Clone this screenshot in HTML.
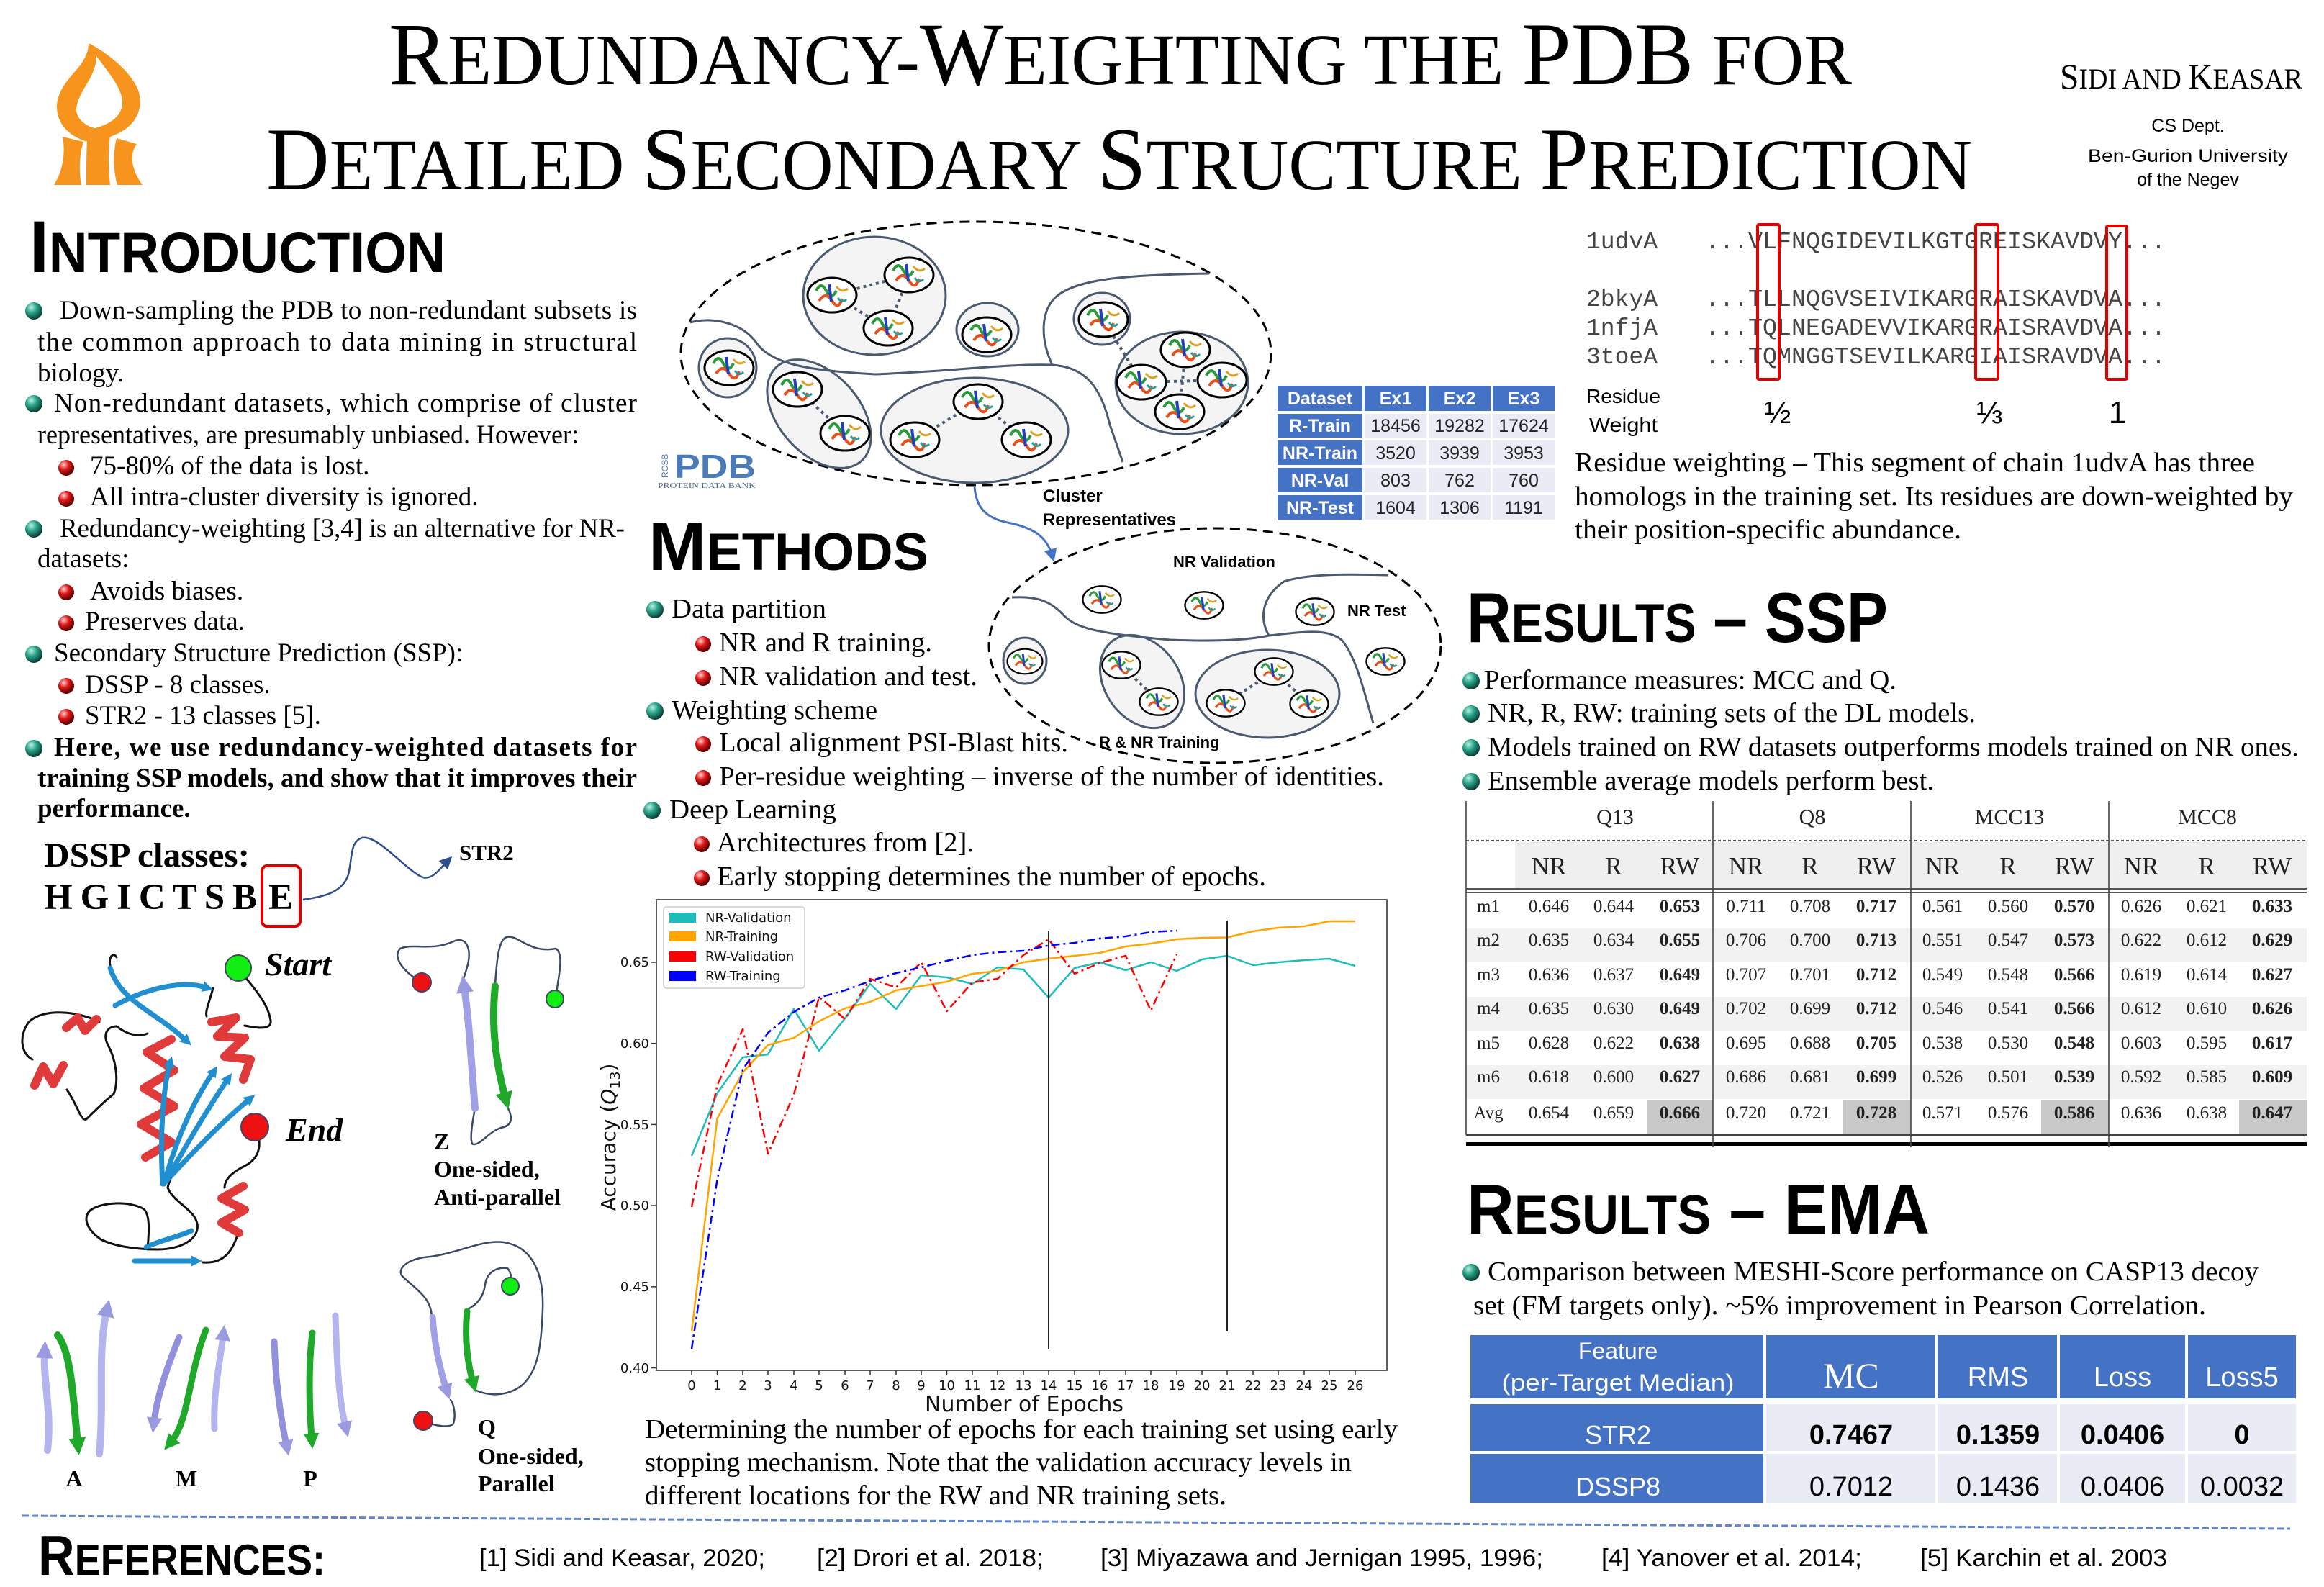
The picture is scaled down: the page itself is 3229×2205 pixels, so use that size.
<!DOCTYPE html>
<html><head><meta charset="utf-8">
<style>
html,body{margin:0;padding:0;background:#fff;}
body{width:3229px;height:2205px;overflow:hidden;}
svg{display:block;}
.serif{font-family:"Liberation Serif",serif;}
.sans{font-family:"Liberation Sans",sans-serif;}
.mono{font-family:"Liberation Mono",monospace;}
.dj{font-family:"DejaVu Sans","Liberation Sans",sans-serif;}
</style></head>
<body>
<svg width="3229" height="2205" viewBox="0 0 3229 2205" xmlns="http://www.w3.org/2000/svg">
<defs>
  <radialGradient id="gt" cx="35%" cy="30%" r="70%">
    <stop offset="0" stop-color="#b8f0e0"/><stop offset="0.45" stop-color="#2aa58a"/><stop offset="1" stop-color="#0b3f35"/>
  </radialGradient>
  <radialGradient id="gr" cx="35%" cy="30%" r="70%">
    <stop offset="0" stop-color="#ffd0d0"/><stop offset="0.45" stop-color="#e01818"/><stop offset="1" stop-color="#5a0000"/>
  </radialGradient>
  <g id="tb"><circle r="12" fill="url(#gt)"/></g>
  <g id="rb"><circle r="11" fill="url(#gr)"/></g>
  <g id="p">
    <ellipse rx="34" ry="24" fill="#fff" stroke="#000" stroke-width="3"/>
    <path d="M-22,-6 q7,-14 14,0 t14,0" stroke="#2a9d3a" stroke-width="4" fill="none"/>
    <path d="M-18,8 q9,-14 18,0 t14,-3" stroke="#e8501a" stroke-width="4" fill="none"/>
    <path d="M-4,-15 l3,24" stroke="#2040c0" stroke-width="4"/>
    <path d="M6,-12 q8,10 16,3" stroke="#e0a020" stroke-width="3" fill="none"/>
    <path d="M8,4 q6,8 12,2" stroke="#20a0a0" stroke-width="3" fill="none"/>
  </g>
  <marker id="aL" viewBox="0 0 10 10" refX="3" refY="5" markerWidth="2.4" markerHeight="2.4" orient="auto"><path d="M0,0L10,5L0,10z" fill="#9a9ae0"/></marker>
  <marker id="aG" viewBox="0 0 10 10" refX="3" refY="5" markerWidth="2.4" markerHeight="2.4" orient="auto"><path d="M0,0L10,5L0,10z" fill="#1fa82a"/></marker>
  <marker id="aB" viewBox="0 0 10 10" refX="3" refY="5" markerWidth="2.2" markerHeight="2.2" orient="auto"><path d="M0,0L10,5L0,10z" fill="#1f8fd0"/></marker>
  <marker id="aK" viewBox="0 0 10 10" refX="5" refY="5" markerWidth="7" markerHeight="7" orient="auto"><path d="M0,0L10,5L0,10z" fill="#2d4e8c"/></marker>
  <marker id="aC" viewBox="0 0 10 10" refX="5" refY="5" markerWidth="6" markerHeight="6" orient="auto"><path d="M0,0L10,5L0,10z" fill="#4472C4"/></marker>
</defs>

<!-- LOGO -->
<g fill="#F7941D">
  <path d="M123,60 C140,68 180,95 192,125 C200,150 190,172 165,185 L135,198 L118,196 C95,188 80,172 79,150 C78,125 100,105 112,90 C120,78 123,70 123,60 Z"/>
  <path d="M87,190 C91,212 88,236 75,257 L113,257 C109,235 111,212 116,197 Z"/>
  <path d="M121,195 C132,189 145,182 155,176 C150,202 150,230 153,257 L120,257 C120,235 120,212 121,195 Z"/>
  <path d="M162,192 L190,200 C181,212 180,232 198,257 L163,257 C157,235 157,212 162,192 Z"/>
</g>
<path d="M134,78 C150,100 168,120 170,140 C171,160 155,172 132,178 C120,176 106,165 106,152 C107,135 120,120 127,105 C132,95 134,85 134,78 Z" fill="#fff"/>

<!-- TITLE -->
<text class="serif" x="540" y="117" textLength="2033" lengthAdjust="spacingAndGlyphs" font-size="124"><tspan>R</tspan><tspan font-size="101">EDUNDANCY-</tspan><tspan>W</tspan><tspan font-size="101">EIGHTING THE </tspan><tspan>PDB</tspan><tspan font-size="101"> FOR</tspan></text>
<text class="serif" x="370" y="263" textLength="2370" lengthAdjust="spacingAndGlyphs" font-size="124"><tspan>D</tspan><tspan font-size="101">ETAILED </tspan><tspan>S</tspan><tspan font-size="101">ECONDARY </tspan><tspan>S</tspan><tspan font-size="101">TRUCTURE </tspan><tspan>P</tspan><tspan font-size="101">REDICTION</tspan></text>
<text class="serif" x="2862" y="123" textLength="337" lengthAdjust="spacingAndGlyphs" font-size="50"><tspan>S</tspan><tspan font-size="40">IDI AND  </tspan><tspan>K</tspan><tspan font-size="40">EASAR</tspan></text>
<g class="sans" font-size="25" text-anchor="middle">
  <text x="3040" y="183">CS Dept.</text>
  <text x="3040" y="225" textLength="278" lengthAdjust="spacingAndGlyphs">Ben-Gurion University</text>
  <text x="3040" y="258">of the Negev</text>
</g>

<!-- INTRODUCTION -->
<text class="sans" font-weight="bold" x="41" y="378" textLength="578" lengthAdjust="spacingAndGlyphs" font-size="102"><tspan>I</tspan><tspan font-size="79">NTRODUCTION</tspan></text>
<g class="serif" font-size="37">
  <use href="#tb" x="47" y="432"/>
  <text x="83" y="443" textLength="802" lengthAdjust="spacing">Down-sampling the PDB to non-redundant subsets is</text>
  <text x="52" y="487" textLength="833" lengthAdjust="spacing">the common approach to data mining in structural</text>
  <text x="52" y="530">biology.</text>
  <use href="#tb" x="47" y="561"/>
  <text x="75" y="572" textLength="810" lengthAdjust="spacing">Non-redundant datasets, which comprise of cluster</text>
  <text x="52" y="616" textLength="752" lengthAdjust="spacingAndGlyphs">representatives, are presumably unbiased. However:</text>
  <use href="#rb" x="92" y="650"/>
  <text x="125" y="659">75-80% of the data is lost.</text>
  <use href="#rb" x="92" y="693"/>
  <text x="125" y="702">All intra-cluster diversity is ignored.</text>
  <use href="#tb" x="47" y="735"/>
  <text x="83" y="746" textLength="785" lengthAdjust="spacing">Redundancy-weighting [3,4] is an alternative for NR-</text>
  <text x="52" y="788">datasets:</text>
  <use href="#rb" x="92" y="823"/>
  <text x="125" y="833">Avoids biases.</text>
  <use href="#rb" x="92" y="866"/>
  <text x="118" y="875">Preserves data.</text>
  <use href="#tb" x="47" y="909"/>
  <text x="75" y="919">Secondary Structure Prediction (SSP):</text>
  <use href="#rb" x="92" y="953"/>
  <text x="118" y="963">DSSP - 8 classes.</text>
  <use href="#rb" x="92" y="996"/>
  <text x="118" y="1006">STR2 - 13 classes [5].</text>
  <use href="#tb" x="47" y="1040"/>
  <text x="75" y="1050" font-weight="bold" textLength="810" lengthAdjust="spacing">Here, we use redundancy-weighted datasets for</text>
  <text x="52" y="1093" font-weight="bold" textLength="833" lengthAdjust="spacing">training SSP models, and show that it improves their</text>
  <text x="52" y="1135" font-weight="bold">performance.</text>
</g>

<!-- DSSP classes -->
<g class="serif" font-weight="bold">
  <text x="61" y="1204" font-size="48" textLength="286" lengthAdjust="spacingAndGlyphs">DSSP classes:</text>
  <text x="61" y="1263" font-size="51" textLength="296" lengthAdjust="spacing">H G I C T S B</text>
  <text x="373" y="1263" font-size="51">E</text>
  <text x="638" y="1195" font-size="31">STR2</text>
</g>
<rect x="364" y="1203" width="53" height="84" rx="7" fill="none" stroke="#e00000" stroke-width="4"/>
<path d="M421,1250 C450,1246 476,1240 484,1215 C490,1190 486,1170 503,1164 C525,1160 560,1205 585,1218 C600,1225 612,1206 622,1196" fill="none" stroke="#2d4e8c" stroke-width="2.5" marker-end="url(#aK)"/>

<!-- protein cartoon -->
<g fill="none" stroke-linecap="round" stroke-linejoin="round">
  <g stroke="#111" stroke-width="3">
    <path d="M331,1345 C345,1365 372,1390 376,1418 C378,1432 355,1428 340,1425"/>
    <path d="M138,1420 C110,1405 60,1400 40,1420 C25,1440 30,1465 45,1472"/>
    <path d="M93,1514 C110,1540 112,1558 120,1555 C130,1545 145,1530 158,1520 C166,1500 160,1470 150,1452 C142,1436 150,1426 162,1426"/>
    <path d="M296,1373 C290,1395 285,1405 287,1412"/>
    <path d="M354,1566 C366,1590 360,1610 340,1620 C320,1630 312,1640 312,1650"/>
    <path d="M233,1650 C240,1670 270,1680 274,1700 C278,1722 250,1736 220,1736 C190,1736 160,1732 140,1722 C120,1708 115,1692 125,1682 C140,1670 180,1668 200,1680 C210,1690 206,1720 205,1736"/>
    <path d="M330,1716 C322,1740 310,1756 282,1754"/>
    <path d="M249,1618 C240,1630 235,1640 233,1650"/>
    <path d="M162,1426 C180,1440 195,1440 205,1436"/>
    <path d="M153,1342 C150,1330 158,1322 162,1330"/>
  </g>
  <g stroke="#e03a3a" stroke-width="12">
    <path d="M238,1444 L204,1462 L242,1487 L200,1512 L242,1537 L196,1562 L238,1587 L202,1608"/>
    <path d="M92,1428 L108,1414 L118,1432 L134,1416"/>
    <path d="M48,1508 L60,1482 L74,1506 L88,1480"/>
    <path d="M294,1420 L328,1414 L302,1440 L340,1442 L312,1468 L348,1472 L338,1500"/>
    <path d="M338,1648 L308,1665 L340,1681 L308,1699 L332,1713"/>
  </g>
  <g stroke="#1f8fd0" stroke-width="7">
    <path d="M160,1397 C205,1372 255,1362 286,1372" marker-end="url(#aB)"/>
    <path d="M153,1345 C168,1392 215,1405 258,1445" marker-end="url(#aB)"/>
    <path d="M226,1645 C222,1580 226,1515 236,1478" marker-end="url(#aB)"/>
    <path d="M228,1645 C245,1580 272,1525 296,1490" marker-end="url(#aB)"/>
    <path d="M230,1642 C258,1592 292,1535 316,1500" marker-end="url(#aB)"/>
    <path d="M232,1640 C276,1592 316,1552 346,1528" marker-end="url(#aB)"/>
    <path d="M203,1733 C220,1724 250,1718 266,1710"/>
    <path d="M187,1752 L270,1752" marker-end="url(#aB)"/>
  </g>
</g>
<circle cx="331" cy="1345" r="18" fill="#11ee11" stroke="#446" stroke-width="2"/>
<circle cx="354" cy="1566" r="19" fill="#ee1111" stroke="#446" stroke-width="2"/>
<g class="serif" font-weight="bold" font-style="italic" font-size="46">
  <text x="368" y="1355">Start</text>
  <text x="397" y="1585">End</text>
</g>

<!-- Z diagram -->
<g fill="none" stroke-linecap="round">
  <path d="M586,1365 C560,1350 545,1330 556,1318 C575,1310 600,1322 630,1308 C648,1300 655,1318 650,1340 C647,1352 645,1356 644,1360" stroke="#3a4a66" stroke-width="2.5"/>
  <path d="M688,1367 C690,1340 692,1305 704,1302 C720,1298 735,1325 772,1318 C785,1325 775,1360 772,1388" stroke="#3a4a66" stroke-width="2.5"/>
  <path d="M660,1540 C655,1565 652,1590 658,1590 C670,1590 680,1570 700,1566 C712,1562 712,1552 706,1540" stroke="#3a4a66" stroke-width="2.5"/>
  <path d="M660,1540 C655,1480 652,1420 645,1372" stroke="#a0a0e6" stroke-width="10" marker-end="url(#aL)"/>
  <path d="M688,1370 C682,1430 690,1480 702,1525" stroke="#1fa82a" stroke-width="10" marker-end="url(#aG)"/>
</g>
<circle cx="586" cy="1365" r="13" fill="#ee1111" stroke="#446" stroke-width="2"/>
<circle cx="771" cy="1388" r="12" fill="#11ee11" stroke="#446" stroke-width="2"/>
<g class="serif" font-weight="bold" font-size="32">
  <text x="603" y="1597">Z</text>
  <text x="603" y="1635">One-sided,</text>
  <text x="603" y="1674">Anti-parallel</text>
</g>

<!-- Q diagram -->
<g fill="none" stroke-linecap="round">
  <path d="M600,1829 C598,1800 575,1790 558,1772 C552,1760 570,1748 598,1746 C640,1740 670,1722 700,1726 C740,1732 756,1770 754,1820 C752,1870 748,1905 725,1925 C705,1940 680,1940 662,1932" stroke="#3a4a66" stroke-width="2.5"/>
  <path d="M648,1820 C665,1812 672,1800 674,1785 C676,1768 690,1760 705,1762 C712,1770 710,1780 709,1786" stroke="#3a4a66" stroke-width="2.5"/>
  <path d="M588,1974 C605,1982 625,1984 630,1978 C634,1965 630,1950 626,1945" stroke="#3a4a66" stroke-width="2.5"/>
  <path d="M601,1830 C604,1870 612,1905 620,1930" stroke="#a0a0e6" stroke-width="9" marker-end="url(#aL)"/>
  <path d="M649,1822 C645,1860 650,1895 657,1920" stroke="#1fa82a" stroke-width="9" marker-end="url(#aG)"/>
</g>
<circle cx="588" cy="1974" r="13" fill="#ee1111" stroke="#446" stroke-width="2"/>
<circle cx="709" cy="1787" r="12" fill="#11ee11" stroke="#446" stroke-width="2"/>
<g class="serif" font-weight="bold" font-size="32">
  <text x="664" y="1994">Q</text>
  <text x="664" y="2034">One-sided,</text>
  <text x="664" y="2072">Parallel</text>
</g>

<!-- A M P strands -->
<g fill="none" stroke-linecap="round">
  <path d="M66,2015 C72,1960 60,1920 62,1880" stroke="#b4b4ee" stroke-width="10" marker-end="url(#aL)"/>
  <path d="M80,1855 C100,1880 102,1950 108,2005" stroke="#1fa82a" stroke-width="10" marker-end="url(#aG)"/>
  <path d="M138,2020 C145,1950 135,1880 148,1822" stroke="#b4b4ee" stroke-width="10" marker-end="url(#aL)"/>
  <path d="M249,1858 C232,1900 218,1940 214,1976" stroke="#9090dd" stroke-width="9" marker-end="url(#aL)"/>
  <path d="M286,1848 C262,1910 262,1975 238,2003" stroke="#1fa82a" stroke-width="9" marker-end="url(#aG)"/>
  <path d="M298,1985 C296,1935 306,1890 310,1856" stroke="#b4b4ee" stroke-width="9" marker-end="url(#aL)"/>
  <path d="M381,1864 C383,1920 390,1970 398,2008" stroke="#9090dd" stroke-width="9" marker-end="url(#aL)"/>
  <path d="M434,1852 C428,1900 430,1960 433,1998" stroke="#1fa82a" stroke-width="9" marker-end="url(#aG)"/>
  <path d="M466,1828 C468,1890 470,1940 480,1982" stroke="#b4b4ee" stroke-width="9" marker-end="url(#aL)"/>
</g>
<g class="serif" font-weight="bold" font-size="32" text-anchor="middle">
  <text x="103" y="2065">A</text>
  <text x="259" y="2065">M</text>
  <text x="431" y="2065">P</text>
</g>

<!-- METHODS diagram top -->
<ellipse cx="1356" cy="491" rx="410" ry="183" fill="none" stroke="#000" stroke-width="3" stroke-dasharray="14,9"/>
<g fill="#f4f4f4" stroke="#4a5a70" stroke-width="3">
  <ellipse cx="1215" cy="411" rx="99" ry="82"/>
  <ellipse cx="1372" cy="458" rx="43" ry="37"/>
  <ellipse cx="1011" cy="511" rx="40" ry="41"/>
  <ellipse cx="1138" cy="575" rx="88" ry="56" transform="rotate(48 1138 575)"/>
  <ellipse cx="1354" cy="598" rx="130" ry="73"/>
  <ellipse cx="1531" cy="443" rx="39" ry="36"/>
  <ellipse cx="1642" cy="532" rx="92" ry="71"/>
</g>
<g fill="none" stroke="#4a5a70" stroke-width="3">
  <path d="M959,448 C990,440 1030,448 1050,475 C1070,505 1120,515 1217,520 C1320,516 1400,505 1462,507 C1510,510 1530,540 1542,590 L1560,642"/>
  <path d="M1462,507 C1445,470 1445,430 1470,410 C1500,388 1560,382 1680,380"/>
</g>
<g stroke="#4a5a70" stroke-width="4" stroke-dasharray="4,5">
  <line x1="1156" y1="410" x2="1263" y2="382"/><line x1="1263" y1="382" x2="1234" y2="456"/><line x1="1156" y1="410" x2="1234" y2="456"/>
  <line x1="1108" y1="541" x2="1174" y2="602"/>
  <line x1="1359" y1="558" x2="1271" y2="611"/><line x1="1359" y1="558" x2="1426" y2="611"/>
  <line x1="1533" y1="444" x2="1586" y2="531"/><line x1="1647" y1="486" x2="1639" y2="572"/><line x1="1586" y1="531" x2="1698" y2="528"/>
</g>
<use href="#p" x="1156" y="410"/><use href="#p" x="1263" y="382"/><use href="#p" x="1234" y="456"/>
<use href="#p" x="1371" y="465"/><use href="#p" x="1013" y="511"/>
<use href="#p" x="1108" y="541"/><use href="#p" x="1174" y="602"/>
<use href="#p" x="1359" y="558"/><use href="#p" x="1271" y="611"/><use href="#p" x="1426" y="611"/>
<use href="#p" x="1533" y="444"/>
<use href="#p" x="1647" y="486"/><use href="#p" x="1586" y="531"/><use href="#p" x="1698" y="528"/><use href="#p" x="1639" y="572"/>

<!-- PDB logo -->
<text class="sans" font-weight="bold" font-size="46" x="937" y="664" fill="#4a7ab8" textLength="113" lengthAdjust="spacingAndGlyphs">PDB</text>
<text class="sans" font-size="12" fill="#4a7ab8" transform="translate(928 664) rotate(-90)">RCSB</text>
<text class="serif" font-size="11" x="914" y="678" fill="#4a6a90" textLength="136" lengthAdjust="spacingAndGlyphs">PROTEIN DATA BANK</text>

<!-- arrow to bottom -->
<path d="M1354,676 C1356,705 1370,720 1400,726 C1440,734 1455,748 1462,772" fill="none" stroke="#4472C4" stroke-width="3" marker-end="url(#aC)"/>
<g class="sans" font-weight="bold" font-size="24">
  <text x="1449" y="697">Cluster</text>
  <text x="1449" y="730" textLength="185" lengthAdjust="spacingAndGlyphs">Representatives</text>
</g>

<!-- dataset table -->
<g>
  <rect x="1775" y="536" width="118" height="35" fill="#4472C4"/>
  <rect x="1896" y="536" width="86" height="35" fill="#4472C4"/>
  <rect x="1985" y="536" width="86" height="35" fill="#4472C4"/>
  <rect x="2074" y="536" width="86" height="35" fill="#4472C4"/>
  <rect x="1775" y="575" width="118" height="33" fill="#4472C4"/>
  <rect x="1775" y="612" width="118" height="34" fill="#4472C4"/>
  <rect x="1775" y="650" width="118" height="34" fill="#4472C4"/>
  <rect x="1775" y="688" width="118" height="34" fill="#4472C4"/>
  <g fill="#E9EBF5">
    <rect x="1896" y="575" width="86" height="33"/><rect x="1985" y="575" width="86" height="33"/><rect x="2074" y="575" width="86" height="33"/>
    <rect x="1896" y="612" width="86" height="34"/><rect x="1985" y="612" width="86" height="34"/><rect x="2074" y="612" width="86" height="34"/>
    <rect x="1896" y="650" width="86" height="34"/><rect x="1985" y="650" width="86" height="34"/><rect x="2074" y="650" width="86" height="34"/>
    <rect x="1896" y="688" width="86" height="34"/><rect x="1985" y="688" width="86" height="34"/><rect x="2074" y="688" width="86" height="34"/>
  </g>
  <g class="sans" font-size="25" text-anchor="middle">
    <g fill="#fff" font-weight="bold">
      <text x="1834" y="562">Dataset</text><text x="1939" y="562">Ex1</text><text x="2028" y="562">Ex2</text><text x="2117" y="562">Ex3</text>
      <text x="1834" y="600">R-Train</text><text x="1834" y="638">NR-Train</text><text x="1834" y="676">NR-Val</text><text x="1834" y="714">NR-Test</text>
    </g>
    <g fill="#222">
      <text x="1939" y="600">18456</text><text x="2028" y="600">19282</text><text x="2117" y="600">17624</text>
      <text x="1939" y="638">3520</text><text x="2028" y="638">3939</text><text x="2117" y="638">3953</text>
      <text x="1939" y="676">803</text><text x="2028" y="676">762</text><text x="2117" y="676">760</text>
      <text x="1939" y="714">1604</text><text x="2028" y="714">1306</text><text x="2117" y="714">1191</text>
    </g>
  </g>
</g>

<!-- METHODS heading -->
<text class="sans" font-weight="bold" x="901" y="792" textLength="389" lengthAdjust="spacingAndGlyphs" font-size="95"><tspan>M</tspan><tspan font-size="73">ETHODS</tspan></text>

<!-- bottom dashed ellipse -->
<ellipse cx="1688" cy="897" rx="314" ry="163" fill="none" stroke="#000" stroke-width="3" stroke-dasharray="14,9"/>
<g fill="#f4f4f4" stroke="#4a5a70" stroke-width="3">
  <ellipse cx="1424" cy="918" rx="30" ry="32"/>
  <ellipse cx="1587" cy="947" rx="70" ry="52" transform="rotate(55 1587 947)"/>
  <ellipse cx="1761" cy="964" rx="100" ry="61"/>
</g>
<g fill="none" stroke="#4a5a70" stroke-width="3">
  <path d="M1406,830 C1440,828 1460,835 1478,855 C1495,872 1520,880 1626,889 C1700,892 1740,888 1763,883"/>
  <path d="M1763,883 C1750,860 1752,830 1784,808 C1820,796 1880,798 1929,799"/>
  <path d="M1763,883 C1810,878 1845,872 1865,890 C1885,915 1895,960 1908,1005"/>
</g>
<g stroke="#4a5a70" stroke-width="4" stroke-dasharray="4,5">
  <line x1="1558" y1="924" x2="1610" y2="975"/><line x1="1770" y1="933" x2="1703" y2="977"/><line x1="1770" y1="933" x2="1819" y2="978"/>
</g>
<g>
  <use href="#p" transform="translate(1531 833) scale(0.78)"/>
  <use href="#p" transform="translate(1673 841) scale(0.78)"/>
  <use href="#p" transform="translate(1827 850) scale(0.78)"/>
  <use href="#p" transform="translate(1424 919) scale(0.72)"/>
  <use href="#p" transform="translate(1558 924) scale(0.78)"/>
  <use href="#p" transform="translate(1610 975) scale(0.78)"/>
  <use href="#p" transform="translate(1770 933) scale(0.78)"/>
  <use href="#p" transform="translate(1703 977) scale(0.78)"/>
  <use href="#p" transform="translate(1819 978) scale(0.78)"/>
  <use href="#p" transform="translate(1925 919) scale(0.78)"/>
</g>
<g class="sans" font-weight="bold" font-size="22">
  <text x="1630" y="788">NR Validation</text>
  <text x="1872" y="856">NR Test</text>
  <text x="1527" y="1039">R &amp; NR Training</text>
</g>

<!-- METHODS bullets -->
<g class="serif" font-size="38">
  <use href="#tb" x="910" y="847"/>
  <text x="933" y="858" textLength="215" lengthAdjust="spacingAndGlyphs">Data partition</text>
  <use href="#rb" x="977" y="895"/>
  <text x="999" y="905" textLength="296" lengthAdjust="spacingAndGlyphs">NR and R training.</text>
  <use href="#rb" x="977" y="942"/>
  <text x="999" y="952" textLength="359" lengthAdjust="spacingAndGlyphs">NR validation and test.</text>
  <use href="#tb" x="910" y="988"/>
  <text x="933" y="999" textLength="286" lengthAdjust="spacingAndGlyphs">Weighting scheme</text>
  <use href="#rb" x="977" y="1034"/>
  <text x="999" y="1044" textLength="485" lengthAdjust="spacingAndGlyphs">Local alignment PSI-Blast hits.</text>
  <use href="#rb" x="977" y="1081"/>
  <text x="999" y="1091" textLength="924" lengthAdjust="spacingAndGlyphs">Per-residue weighting – inverse of the number of identities.</text>
  <use href="#tb" x="906" y="1126"/>
  <text x="930" y="1137" textLength="232" lengthAdjust="spacingAndGlyphs">Deep Learning</text>
  <use href="#rb" x="975" y="1173"/>
  <text x="996" y="1183" textLength="357" lengthAdjust="spacingAndGlyphs">Architectures from [2].</text>
  <use href="#rb" x="975" y="1220"/>
  <text x="996" y="1230" textLength="763" lengthAdjust="spacingAndGlyphs">Early stopping determines the number of epochs.</text>
</g>

<!-- CHART -->
<rect x="912" y="1250" width="1015" height="654" fill="#fff" stroke="#333" stroke-width="1.6"/>
<g stroke="#333" stroke-width="1.5">
  <line x1="905" y1="1337" x2="912" y2="1337"/><line x1="905" y1="1449.7" x2="912" y2="1449.7"/><line x1="905" y1="1562.4" x2="912" y2="1562.4"/>
  <line x1="905" y1="1675" x2="912" y2="1675"/><line x1="905" y1="1787.8" x2="912" y2="1787.8"/><line x1="905" y1="1900.5" x2="912" y2="1900.5"/>
</g>
<g class="dj" font-size="18" text-anchor="end" fill="#111">
  <text x="902" y="1343">0.65</text><text x="902" y="1456">0.60</text><text x="902" y="1569">0.55</text>
  <text x="902" y="1681">0.50</text><text x="902" y="1794">0.45</text><text x="902" y="1907">0.40</text>
</g>
<g stroke="#333" stroke-width="1.5">
  <path d="M961,1904v7M996.5,1904v7M1032,1904v7M1067,1904v7M1103,1904v7M1138,1904v7M1174,1904v7M1209,1904v7M1245,1904v7M1280,1904v7M1315.5,1904v7M1351,1904v7M1386,1904v7M1422,1904v7M1457,1904v7M1493,1904v7M1528,1904v7M1564,1904v7M1599,1904v7M1635,1904v7M1670,1904v7M1705,1904v7M1741,1904v7M1776,1904v7M1812,1904v7M1847,1904v7M1883,1904v7"/>
</g>
<g class="dj" font-size="18" text-anchor="middle" fill="#111">
  <text x="961" y="1931">0</text><text x="996.5" y="1931">1</text><text x="1032" y="1931">2</text><text x="1067" y="1931">3</text>
  <text x="1103" y="1931">4</text><text x="1138" y="1931">5</text><text x="1174" y="1931">6</text><text x="1209" y="1931">7</text>
  <text x="1245" y="1931">8</text><text x="1280" y="1931">9</text><text x="1315.5" y="1931">10</text><text x="1351" y="1931">11</text>
  <text x="1386" y="1931">12</text><text x="1422" y="1931">13</text><text x="1457" y="1931">14</text><text x="1493" y="1931">15</text>
  <text x="1528" y="1931">16</text><text x="1564" y="1931">17</text><text x="1599" y="1931">18</text><text x="1635" y="1931">19</text>
  <text x="1670" y="1931">20</text><text x="1705" y="1931">21</text><text x="1741" y="1931">22</text><text x="1776" y="1931">23</text>
  <text x="1812" y="1931">24</text><text x="1847" y="1931">25</text><text x="1883" y="1931">26</text>
</g>
<text class="dj" font-size="30" x="1423" y="1961" text-anchor="middle" fill="#111">Number of Epochs</text>
<text class="dj" font-size="28" fill="#111" text-anchor="middle" transform="translate(855 1580) rotate(-90)">Accuracy (<tspan font-style="italic">Q</tspan><tspan font-size="19" dy="6">13</tspan><tspan dy="-6">)</tspan></text>
<g fill="none" stroke-width="2.5" stroke-linejoin="round">
  <polyline stroke="#1fbcbc" points="961,1606 996.5,1519 1032,1469 1067,1465 1103,1402 1138,1460 1174,1415 1209,1367 1245,1402 1280,1355 1315.5,1358 1351,1367 1386,1344 1422,1347 1457,1386 1493,1345 1528,1337 1564,1348 1599,1337 1635,1349 1670,1333 1705,1328 1741,1341 1776,1337 1812,1334 1847,1332 1883,1342"/>
  <polyline stroke="#ffa500" points="961,1850 996.5,1554 1032,1490 1067,1452 1103,1442 1138,1419 1174,1401 1209,1392 1245,1376 1280,1370 1315.5,1364 1351,1353 1386,1349 1422,1337 1457,1332 1493,1328 1528,1324 1564,1315 1599,1311 1635,1305 1670,1303 1705,1302.5 1741,1294 1776,1289 1812,1287 1847,1280 1883,1280"/>
  <polyline stroke="#ff0000" stroke-dasharray="12,5,3,5" points="961,1677 996.5,1508 1032,1430 1067,1603 1103,1521 1138,1385 1174,1416 1209,1360 1245,1372 1280,1337 1315.5,1405 1351,1365 1386,1360 1422,1327 1457,1305 1493,1353 1528,1338 1564,1328 1599,1404 1635,1326"/>
  <polyline stroke="#0000ff" stroke-dasharray="12,5,3,5" points="961,1874 996.5,1639 1032,1486 1067,1435 1103,1406 1138,1386 1174,1376 1209,1363 1245,1352 1280,1344 1315.5,1335 1351,1327 1386,1323 1422,1321 1457,1313.5 1493,1310 1528,1304 1564,1301 1599,1295 1635,1293"/>
</g>
<line x1="1457" y1="1293" x2="1457" y2="1875" stroke="#222" stroke-width="2"/>
<line x1="1705" y1="1279" x2="1705" y2="1850" stroke="#222" stroke-width="2"/>
<rect x="922" y="1260" width="196" height="113" rx="4" fill="#fff" fill-opacity="0.9" stroke="#ccc" stroke-width="1.5"/>
<rect x="930" y="1268" width="37" height="14" fill="#1fbcbc"/>
<rect x="930" y="1294" width="37" height="14" fill="#ffa500"/>
<rect x="930" y="1322" width="37" height="14" fill="#ff0000"/>
<rect x="930" y="1349" width="37" height="14" fill="#0000ff"/>
<g class="dj" font-size="18" fill="#111">
  <text x="980" y="1281">NR-Validation</text>
  <text x="980" y="1307">NR-Training</text>
  <text x="980" y="1335">RW-Validation</text>
  <text x="980" y="1362">RW-Training</text>
</g>
<g class="serif" font-size="38">
  <text x="896" y="1998" textLength="1046" lengthAdjust="spacingAndGlyphs">Determining the number of epochs for each training set using early</text>
  <text x="896" y="2044" textLength="982" lengthAdjust="spacingAndGlyphs">stopping mechanism.  Note that the validation accuracy levels in</text>
  <text x="896" y="2090" textLength="808" lengthAdjust="spacingAndGlyphs">different locations for the RW and NR training sets.</text>
</g>

<!-- SEQUENCE ALIGNMENT -->
<g class="mono" font-size="33" fill="#444">
  <text x="2204" y="345">1udvA</text>
  <text x="2369" y="345" textLength="640" lengthAdjust="spacingAndGlyphs">...VLFNQGIDEVILKGTGREISKAVDVY...</text>
  <text x="2204" y="425">2bkyA</text>
  <text x="2369" y="425" textLength="640" lengthAdjust="spacingAndGlyphs">...TLLNQGVSEIVIKARGRAISKAVDVA...</text>
  <text x="2204" y="465">1nfjA</text>
  <text x="2369" y="465" textLength="640" lengthAdjust="spacingAndGlyphs">...TQLNEGADEVVIKARGRAISRAVDVA...</text>
  <text x="2204" y="505">3toeA</text>
  <text x="2369" y="505" textLength="640" lengthAdjust="spacingAndGlyphs">...TQMNGGTSEVILKARGIAISRAVDVA...</text>
</g>
<g fill="none" stroke="#e00000" stroke-width="4">
  <rect x="2442" y="312" width="30" height="215" rx="2"/>
  <rect x="2745" y="312" width="31" height="215" rx="2"/>
  <rect x="2927" y="314" width="28" height="213" rx="2"/>
</g>
<g class="sans" font-size="28">
  <text x="2204" y="560" textLength="103" lengthAdjust="spacingAndGlyphs">Residue</text>
  <text x="2208" y="600" textLength="95" lengthAdjust="spacingAndGlyphs">Weight</text>
</g>
<g font-family="'Liberation Sans','DejaVu Sans',sans-serif" font-size="44" text-anchor="middle">
  <text x="2470" y="588">½</text>
  <text x="2764" y="588">⅓</text>
  <text x="2942" y="588">1</text>
</g>
<g class="serif" font-size="38">
  <text x="2188" y="655" textLength="945" lengthAdjust="spacingAndGlyphs">Residue weighting – This segment of chain 1udvA has three</text>
  <text x="2188" y="702" textLength="998" lengthAdjust="spacingAndGlyphs">homologs in the training set. Its residues are down-weighted by</text>
  <text x="2188" y="748" textLength="537" lengthAdjust="spacingAndGlyphs">their position-specific abundance.</text>
</g>

<!-- RESULTS SSP -->
<text class="sans" font-weight="bold" x="2038" y="892" textLength="585" lengthAdjust="spacingAndGlyphs" font-size="98"><tspan>R</tspan><tspan font-size="76">ESULTS</tspan><tspan> – SSP</tspan></text>
<g class="serif" font-size="38">
  <use href="#tb" x="2044" y="946"/>
  <text x="2062" y="957" textLength="573" lengthAdjust="spacingAndGlyphs">Performance measures: MCC and Q.</text>
  <use href="#tb" x="2044" y="992"/>
  <text x="2067" y="1003" textLength="678" lengthAdjust="spacingAndGlyphs">NR, R, RW: training sets of the DL models.</text>
  <use href="#tb" x="2044" y="1039"/>
  <text x="2067" y="1050" textLength="1127" lengthAdjust="spacingAndGlyphs">Models trained on RW datasets outperforms models trained on NR ones.</text>
  <use href="#tb" x="2044" y="1086"/>
  <text x="2067" y="1097" textLength="620" lengthAdjust="spacingAndGlyphs">Ensemble average models perform best.</text>
</g>

<!-- SSP table -->
<g>
  <rect x="2105" y="1168" width="1100" height="66" fill="#efefef"/>
  <rect x="2037" y="1290" width="1168" height="47" fill="#f2f2f2"/>
  <rect x="2037" y="1385" width="1168" height="47" fill="#f2f2f2"/>
  <rect x="2037" y="1480" width="1168" height="47" fill="#f2f2f2"/>
  <g fill="#c9c9c9">
    <rect x="2288" y="1528" width="92" height="49"/><rect x="2561" y="1528" width="94" height="49"/>
    <rect x="2836" y="1528" width="94" height="49"/><rect x="3111" y="1528" width="94" height="49"/>
  </g>
  <line x1="2037" y1="1168" x2="3205" y2="1168" stroke="#555" stroke-width="2" stroke-dasharray="4,3"/>
  <line x1="2037" y1="1235" x2="3205" y2="1235" stroke="#555" stroke-width="2"/>
  <line x1="2037" y1="1240" x2="3205" y2="1240" stroke="#555" stroke-width="2"/>
  <line x1="2037" y1="1577" x2="3205" y2="1577" stroke="#444" stroke-width="2"/>
  <line x1="2037" y1="1589.5" x2="3205" y2="1589.5" stroke="#000" stroke-width="5"/>
  <g stroke="#444" stroke-width="1.6">
    <line x1="2037" y1="1113" x2="2037" y2="1577"/>
    <line x1="2380" y1="1113" x2="2380" y2="1594"/>
    <line x1="2655" y1="1113" x2="2655" y2="1594"/>
    <line x1="2930" y1="1113" x2="2930" y2="1594"/>
  </g>
  <g class="serif" text-anchor="middle" fill="#222">
    <g font-size="30">
      <text x="2244" y="1145">Q13</text><text x="2518" y="1145">Q8</text><text x="2792" y="1145">MCC13</text><text x="3067" y="1145">MCC8</text>
    </g>
    <g font-size="35">
      <text x="2152" y="1215">NR</text><text x="2242" y="1215">R</text><text x="2334" y="1215">RW</text>
      <text x="2426" y="1215">NR</text><text x="2515" y="1215">R</text><text x="2607" y="1215">RW</text>
      <text x="2699" y="1215">NR</text><text x="2790" y="1215">R</text><text x="2882" y="1215">RW</text>
      <text x="2975" y="1215">NR</text><text x="3066" y="1215">R</text><text x="3157" y="1215">RW</text>
    </g>
    <g font-size="25">
      <text x="2068" y="1267">m1</text><text x="2152" y="1267">0.646</text><text x="2242" y="1267">0.644</text><text x="2334" y="1267" font-weight="bold">0.653</text><text x="2426" y="1267">0.711</text><text x="2515" y="1267">0.708</text><text x="2607" y="1267" font-weight="bold">0.717</text><text x="2699" y="1267">0.561</text><text x="2790" y="1267">0.560</text><text x="2882" y="1267" font-weight="bold">0.570</text><text x="2975" y="1267">0.626</text><text x="3066" y="1267">0.621</text><text x="3157" y="1267" font-weight="bold">0.633</text>
      <text x="2068" y="1314">m2</text><text x="2152" y="1314">0.635</text><text x="2242" y="1314">0.634</text><text x="2334" y="1314" font-weight="bold">0.655</text><text x="2426" y="1314">0.706</text><text x="2515" y="1314">0.700</text><text x="2607" y="1314" font-weight="bold">0.713</text><text x="2699" y="1314">0.551</text><text x="2790" y="1314">0.547</text><text x="2882" y="1314" font-weight="bold">0.573</text><text x="2975" y="1314">0.622</text><text x="3066" y="1314">0.612</text><text x="3157" y="1314" font-weight="bold">0.629</text>
      <text x="2068" y="1362">m3</text><text x="2152" y="1362">0.636</text><text x="2242" y="1362">0.637</text><text x="2334" y="1362" font-weight="bold">0.649</text><text x="2426" y="1362">0.707</text><text x="2515" y="1362">0.701</text><text x="2607" y="1362" font-weight="bold">0.712</text><text x="2699" y="1362">0.549</text><text x="2790" y="1362">0.548</text><text x="2882" y="1362" font-weight="bold">0.566</text><text x="2975" y="1362">0.619</text><text x="3066" y="1362">0.614</text><text x="3157" y="1362" font-weight="bold">0.627</text>
      <text x="2068" y="1409">m4</text><text x="2152" y="1409">0.635</text><text x="2242" y="1409">0.630</text><text x="2334" y="1409" font-weight="bold">0.649</text><text x="2426" y="1409">0.702</text><text x="2515" y="1409">0.699</text><text x="2607" y="1409" font-weight="bold">0.712</text><text x="2699" y="1409">0.546</text><text x="2790" y="1409">0.541</text><text x="2882" y="1409" font-weight="bold">0.566</text><text x="2975" y="1409">0.612</text><text x="3066" y="1409">0.610</text><text x="3157" y="1409" font-weight="bold">0.626</text>
      <text x="2068" y="1457">m5</text><text x="2152" y="1457">0.628</text><text x="2242" y="1457">0.622</text><text x="2334" y="1457" font-weight="bold">0.638</text><text x="2426" y="1457">0.695</text><text x="2515" y="1457">0.688</text><text x="2607" y="1457" font-weight="bold">0.705</text><text x="2699" y="1457">0.538</text><text x="2790" y="1457">0.530</text><text x="2882" y="1457" font-weight="bold">0.548</text><text x="2975" y="1457">0.603</text><text x="3066" y="1457">0.595</text><text x="3157" y="1457" font-weight="bold">0.617</text>
      <text x="2068" y="1504">m6</text><text x="2152" y="1504">0.618</text><text x="2242" y="1504">0.600</text><text x="2334" y="1504" font-weight="bold">0.627</text><text x="2426" y="1504">0.686</text><text x="2515" y="1504">0.681</text><text x="2607" y="1504" font-weight="bold">0.699</text><text x="2699" y="1504">0.526</text><text x="2790" y="1504">0.501</text><text x="2882" y="1504" font-weight="bold">0.539</text><text x="2975" y="1504">0.592</text><text x="3066" y="1504">0.585</text><text x="3157" y="1504" font-weight="bold">0.609</text>
      <text x="2068" y="1554">Avg</text><text x="2152" y="1554">0.654</text><text x="2242" y="1554">0.659</text><text x="2334" y="1554" font-weight="bold">0.666</text><text x="2426" y="1554">0.720</text><text x="2515" y="1554">0.721</text><text x="2607" y="1554" font-weight="bold">0.728</text><text x="2699" y="1554">0.571</text><text x="2790" y="1554">0.576</text><text x="2882" y="1554" font-weight="bold">0.586</text><text x="2975" y="1554">0.636</text><text x="3066" y="1554">0.638</text><text x="3157" y="1554" font-weight="bold">0.647</text>
    </g>
  </g>
</g>

<!-- RESULTS EMA -->
<text class="sans" font-weight="bold" x="2038" y="1714" textLength="643" lengthAdjust="spacingAndGlyphs" font-size="98"><tspan>R</tspan><tspan font-size="76">ESULTS</tspan><tspan> – EMA</tspan></text>
<g class="serif" font-size="38">
  <use href="#tb" x="2044" y="1768"/>
  <text x="2067" y="1779" textLength="1071" lengthAdjust="spacingAndGlyphs">Comparison between MESHI-Score performance on CASP13 decoy</text>
  <text x="2047" y="1826" textLength="1018" lengthAdjust="spacingAndGlyphs">set (FM  targets only). ~5% improvement in Pearson Correlation.</text>
</g>
<g>
  <g fill="#4472C4">
    <rect x="2043" y="1855" width="407" height="88"/>
    <rect x="2454" y="1855" width="234" height="88"/>
    <rect x="2692" y="1855" width="166" height="88"/>
    <rect x="2862" y="1855" width="174" height="88"/>
    <rect x="3040" y="1855" width="150" height="88"/>
    <rect x="2043" y="1951" width="407" height="65"/>
    <rect x="2043" y="2020" width="407" height="68"/>
  </g>
  <g fill="#E9EBF5">
    <rect x="2454" y="1951" width="234" height="65"/><rect x="2692" y="1951" width="166" height="65"/><rect x="2862" y="1951" width="174" height="65"/><rect x="3040" y="1951" width="150" height="65"/>
    <rect x="2454" y="2020" width="234" height="68"/><rect x="2692" y="2020" width="166" height="68"/><rect x="2862" y="2020" width="174" height="68"/><rect x="3040" y="2020" width="150" height="68"/>
  </g>
  <g fill="#fff" text-anchor="middle">
    <text class="sans" font-size="32" x="2248" y="1888">Feature</text>
    <text class="sans" font-size="32" x="2248" y="1932" textLength="323" lengthAdjust="spacingAndGlyphs">(per-Target Median)</text>
    <text class="serif" font-size="50" x="2572" y="1928">MC</text>
    <text class="sans" font-size="38" x="2776" y="1926">RMS</text>
    <text class="sans" font-size="38" x="2949" y="1926">Loss</text>
    <text class="sans" font-size="38" x="3115" y="1926">Loss5</text>
    <text class="sans" font-size="36" x="2248" y="2006">STR2</text>
    <text class="sans" font-size="36" x="2248" y="2078">DSSP8</text>
  </g>
  <g class="sans" text-anchor="middle" fill="#000">
    <g font-size="38" font-weight="bold">
      <text x="2572" y="2006">0.7467</text><text x="2776" y="2006">0.1359</text><text x="2949" y="2006">0.0406</text><text x="3115" y="2006">0</text>
    </g>
    <g font-size="38">
      <text x="2572" y="2078">0.7012</text><text x="2776" y="2078">0.1436</text><text x="2949" y="2078">0.0406</text><text x="3115" y="2078">0.0032</text>
    </g>
  </g>
</g>

<!-- separator & references -->
<line x1="31" y1="2106" x2="3182" y2="2124" stroke="#4472C4" stroke-width="3" stroke-dasharray="9,4" opacity="0.85"/>
<text class="sans" font-weight="bold" x="53" y="2188" textLength="399" lengthAdjust="spacingAndGlyphs" font-size="78"><tspan>R</tspan><tspan font-size="60">EFERENCES:</tspan></text>
<g class="sans" font-size="34">
  <text x="666" y="2176" textLength="397" lengthAdjust="spacingAndGlyphs">[1] Sidi and Keasar, 2020;</text>
  <text x="1135" y="2176" textLength="315" lengthAdjust="spacingAndGlyphs">[2] Drori et al. 2018;</text>
  <text x="1529" y="2176" textLength="615" lengthAdjust="spacingAndGlyphs">[3] Miyazawa and Jernigan 1995, 1996;</text>
  <text x="2225" y="2176" textLength="362" lengthAdjust="spacingAndGlyphs">[4] Yanover et al. 2014;</text>
  <text x="2668" y="2176" textLength="343" lengthAdjust="spacingAndGlyphs">[5] Karchin et al. 2003</text>
</g>
</svg>
</body></html>
